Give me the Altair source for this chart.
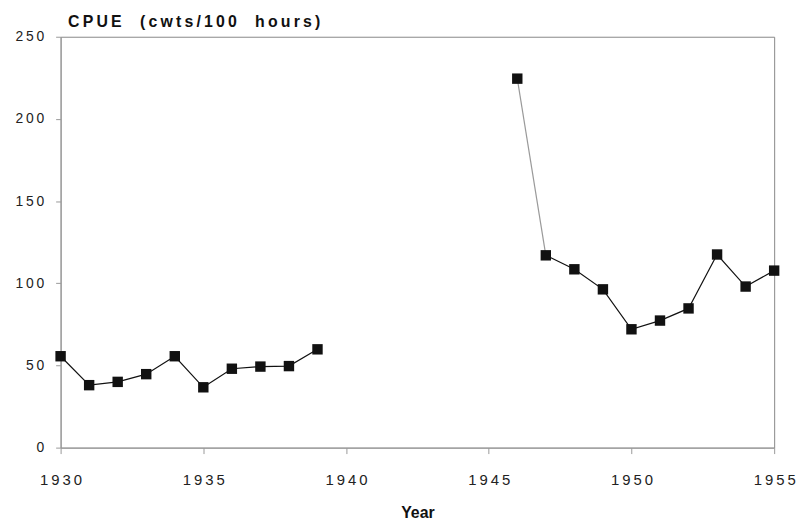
import altair as alt
import pandas as pd

years_pre = [1930, 1931, 1932, 1933, 1934, 1935, 1936, 1937, 1938, 1939]
cpue_pre = [55.6, 38, 40, 44.7, 55.6, 36.7, 48, 49.3, 49.6, 59.8]
years_post = [1946, 1947, 1948, 1949, 1950, 1951, 1952, 1953, 1954, 1955]
cpue_post = [224.5, 117, 108.5, 96.3, 72, 77.3, 84.7, 117.5, 98, 107.7]
x_ticks = [1930, 1935, 1940, 1945, 1950, 1955]
y_ticks = [0, 50, 100, 150, 200, 250]
title_text = "CPUE  (cwts/100  hours)"

df = pd.DataFrame({
    "Year": years_pre + years_post,
    "CPUE": cpue_pre + cpue_post,
})

# line pieces: pre-war, the 1946->1947 drop (drawn lighter), and post-war
line_df = pd.DataFrame({
    "Year": years_pre + years_post[:2] + years_post[1:],
    "CPUE": cpue_pre + cpue_post[:2] + cpue_post[1:],
    "seg": ["pre"] * len(years_pre) + ["drop"] * 2 + ["post"] * (len(years_post) - 1),
})

spaced = "join(split(datum.label, ''), '\u2009')"
title_spaced = "\u2009".join(title_text)

x = alt.X("Year:Q",
          scale=alt.Scale(domain=[1930, 1955], nice=False, zero=False),
          axis=alt.Axis(values=x_ticks, format="d", title="Year", grid=False,
                        labelExpr=spaced, labelFlush=False,
                        domainColor="#999", tickColor="#999", tickSize=6,
                        labelFontSize=15, labelColor="#222", labelPadding=19,
                        labelFont="Liberation Sans",
                        titleFont="Liberation Sans", titleFontSize=16,
                        titleFontWeight="bold", titleColor="#111", titlePadding=17))
y = alt.Y("CPUE:Q",
          scale=alt.Scale(domain=[0, 250], nice=False),
          axis=alt.Axis(values=y_ticks, grid=False, title=title_spaced,
                        labelExpr=spaced, labelFlush=False,
                        domainColor="#999", tickColor="#999", tickSize=5,
                        labelFontSize=14, labelColor="#222", labelPadding=12,
                        labelFont="Liberation Sans",
                        titleFont="Liberation Sans", titleFontSize=16,
                        titleFontWeight="bold", titleColor="#111",
                        titleAngle=0, titleAlign="left", titleBaseline="alphabetic",
                        titleX=7, titleY=-10))

line = alt.Chart(line_df).mark_line(strokeWidth=1.2).encode(
    x=x, y=y, detail="seg:N",
    color=alt.Color("seg:N", scale=alt.Scale(domain=["pre", "drop", "post"],
                                             range=["#111", "#999", "#111"]),
                    legend=None))
pts = alt.Chart(df).mark_point(shape="square", filled=True, color="#111",
                               opacity=1, size=110).encode(x=x, y=y)

chart = (line + pts).properties(
    width=719, height=414,
    autosize=alt.AutoSizeParams(type="none"),
    padding={"left": 53, "top": 27, "right": 22, "bottom": 74},
).configure_view(stroke="#888", strokeWidth=1)

chart.save("out.html", embed_options={"renderer": "svg", "actions": False})
